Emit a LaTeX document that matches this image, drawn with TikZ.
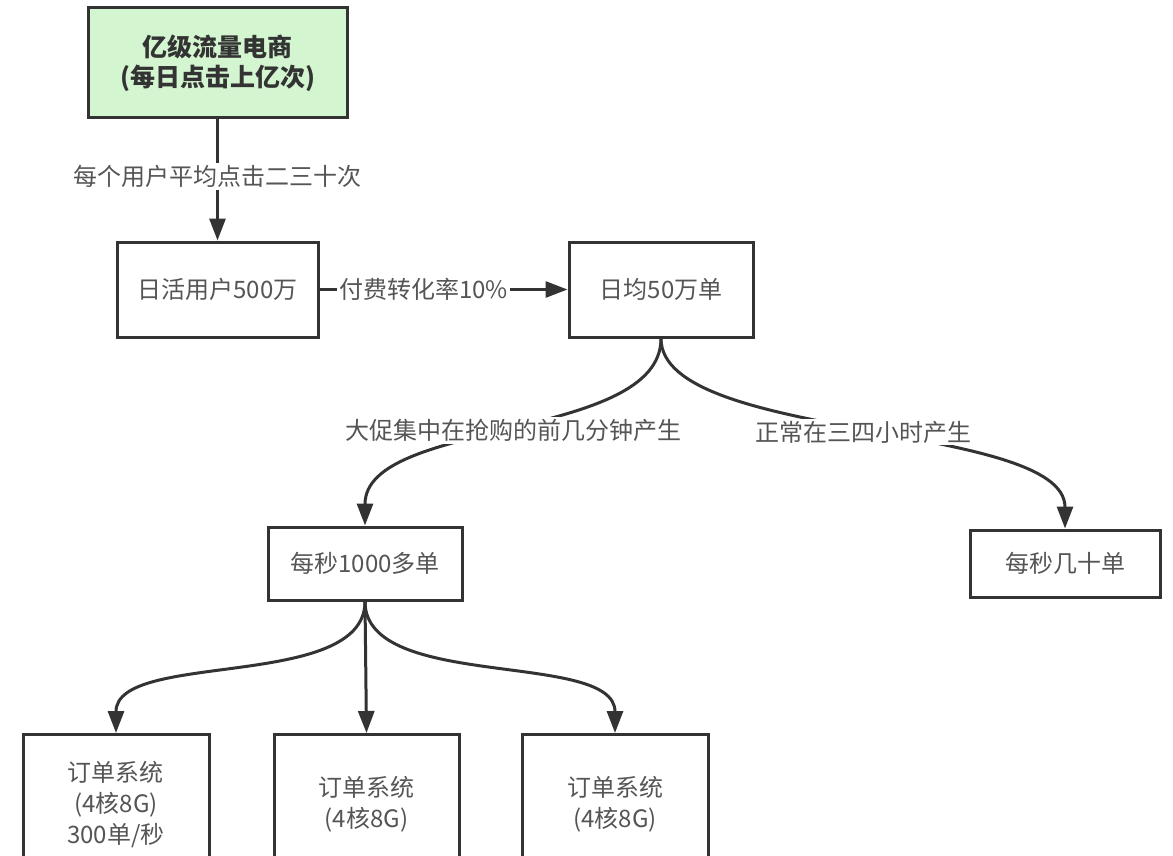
\documentclass[tikz,border=0pt]{standalone}
\usepackage{fontspec}
\setmainfont{Noto Sans CJK SC}
\usetikzlibrary{arrows.meta}
\definecolor{lineC}{HTML}{333333}
\definecolor{txtC}{HTML}{555555}
\definecolor{topTxt}{HTML}{333333}
\definecolor{greenF}{HTML}{D3F5D0}
\begin{document}
\begin{tikzpicture}[x=1pt,y=-1pt,
  box/.style={draw=lineC, line width=3pt, fill=white, text=txtC,
    font=\fontsize{24}{31}\selectfont, align=center, inner sep=0pt},
  conn/.style={draw=lineC, line width=3pt, -{Triangle[length=22pt,width=16pt]}},
  lbl/.style={fill=white, text=txtC, font=\fontsize{24}{31}\selectfont, inner sep=2pt}]
\useasboundingbox (0,0) rectangle (1173,856);
\clip (0,0) rectangle (1173,856);
\fill[white] (0,0) rectangle (1173,856);

\node[box, fill=greenF, text=topTxt, font=\fontsize{25}{30}\selectfont\bfseries,
  minimum width=259pt, minimum height=110pt] (top) at (217.5,63) {亿级流量电商\\(每日点击上亿次)};
\node[box, minimum width=201pt, minimum height=95pt] (dau) at (217.5,289.5) {日活用户500万};
\node[box, minimum width=184pt, minimum height=95pt] (orders) at (661,289.5) {日均50万单};
\node[box, minimum width=194pt, minimum height=73pt] (peak) at (365,563.5) {每秒1000多单};
\node[box, minimum width=190pt, minimum height=67pt] (normal) at (1065,563.5) {每秒几十单};
\node[box, anchor=north, minimum width=186pt, minimum height=140pt] (s1) at (116,733) {订单系统\\(4核8G)\\300单/秒};
\node[box, anchor=north, minimum width=185pt, minimum height=140pt] (s2) at (366.5,733) {订单系统\\(4核8G)};
\node[box, anchor=north, minimum width=186pt, minimum height=140pt] (s3) at (615,733) {订单系统\\(4核8G)};

\draw[conn] (top.south) -- node[lbl, pos=0.47] {每个用户平均点击二三十次} (dau.north);
\draw[conn] (dau.east) -- node[lbl, pos=0.42] {付费转化率10\%} (orders.west);
\draw[conn] (orders.south) .. controls +(0,103) and +(0,-107) .. node[lbl, pos=0.5] {大促集中在抢购的前几分钟产生} (peak.north);
\draw[conn] (orders.south) .. controls +(0,103) and +(0,-107) .. node[lbl, pos=0.5] {正常在三四小时产生} (normal.north);
\draw[conn] (peak.south) .. controls +(0,90) and +(0,-83) .. (s1.north);
\draw[conn] (peak.south) -- (s2.north);
\draw[conn] (peak.south) .. controls +(0,90) and +(0,-83) .. (s3.north);
\end{tikzpicture}
\end{document}
